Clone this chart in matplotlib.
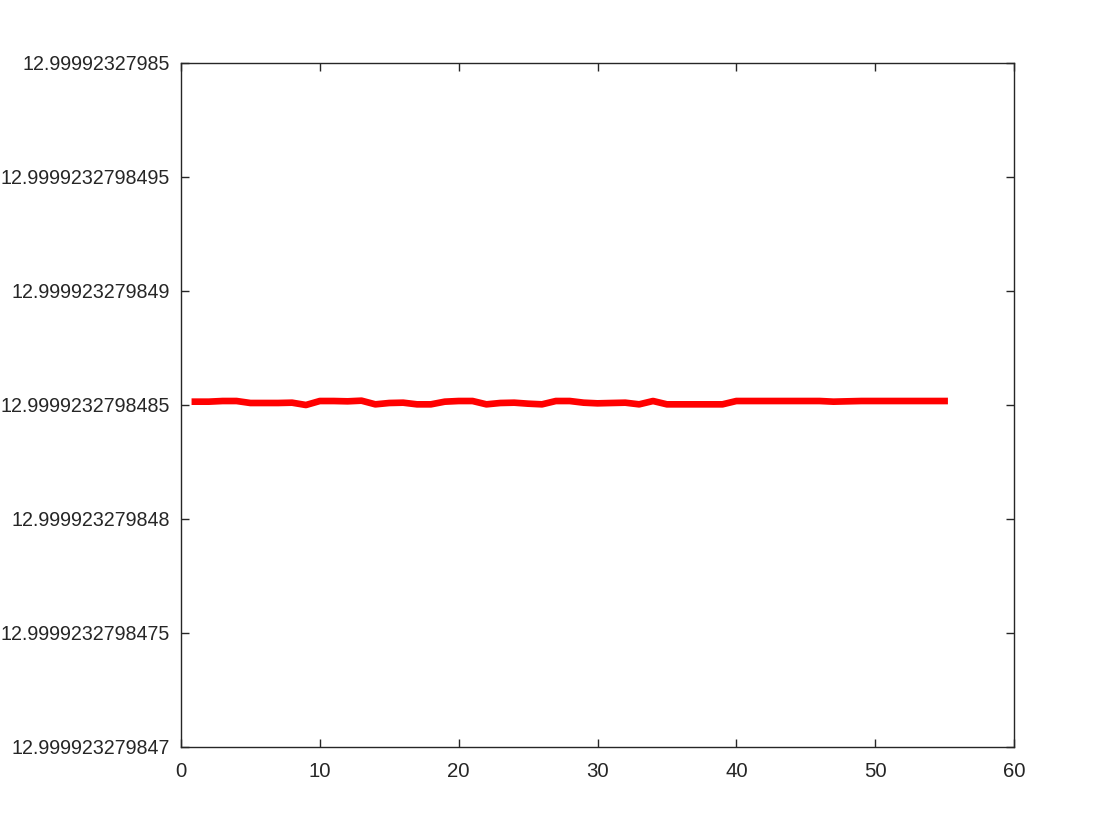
import matplotlib
matplotlib.use("Agg")
import matplotlib.pyplot as plt

# Data: y values expressed as offsets (in units of 1e-15) from the base value 12.9999232798485
base_label = "12.9999232798485"
x = list(range(1, 56))
y_offset_e15 = [
    14.6, 14.6, 17.5, 17.5, 8.8, 8.8, 8.8, 10.2, 0.0, 17.5,
    17.5, 16.1, 19.0, 2.9, 8.8, 10.2, 2.9, 2.9, 14.6, 17.5,
    17.5, 2.9, 8.8, 10.2, 5.8, 2.9, 17.5, 17.5, 10.2, 7.3,
    8.8, 10.2, 2.9, 17.5, 2.9, 2.9, 2.9, 2.9, 2.9, 17.5,
    17.5, 17.5, 17.5, 17.5, 17.5, 17.5, 14.6, 16.1, 17.5, 17.5,
    17.5, 17.5, 17.5, 17.5, 17.5,
]

ytick_pos = [-1500, -1000, -500, 0, 500, 1000, 1500]
ytick_labels = ["12.999923279847", "12.9999232798475", "12.999923279848",
                "12.9999232798485", "12.999923279849", "12.9999232798495",
                "12.99992327985"]
xticks = [0, 10, 20, 30, 40, 50, 60]

plt.rcParams['font.family'] = ['Liberation Sans', 'DejaVu Sans']

fig = plt.figure(figsize=(11.2, 8.4), dpi=100)
ax = fig.add_axes([181/1120, 1 - 747/840, (1014 - 181)/1120, (747 - 63)/840])
ax.plot(x, y_offset_e15, color=(1, 0, 0), linewidth=4.8, solid_joinstyle='round')

ax.set_xlim(0, 60)
ax.set_ylim(-1500, 1500)
ax.set_xticks(xticks)
ax.set_xticklabels([str(v) for v in xticks])
ax.set_yticks(ytick_pos)
ax.set_yticklabels(ytick_labels)

axcol = (0.15, 0.15, 0.15)
for s in ax.spines.values():
    s.set_color(axcol)
    s.set_linewidth(1.0)
ax.tick_params(direction='in', length=6, width=1.0, color=axcol,
               labelcolor=axcol, labelsize=14.1, top=True, right=True)
ax.tick_params(axis='y', pad=8)
ax.tick_params(axis='x', pad=11, labelsize=14.7)

fig.savefig("out.png", dpi=100)
